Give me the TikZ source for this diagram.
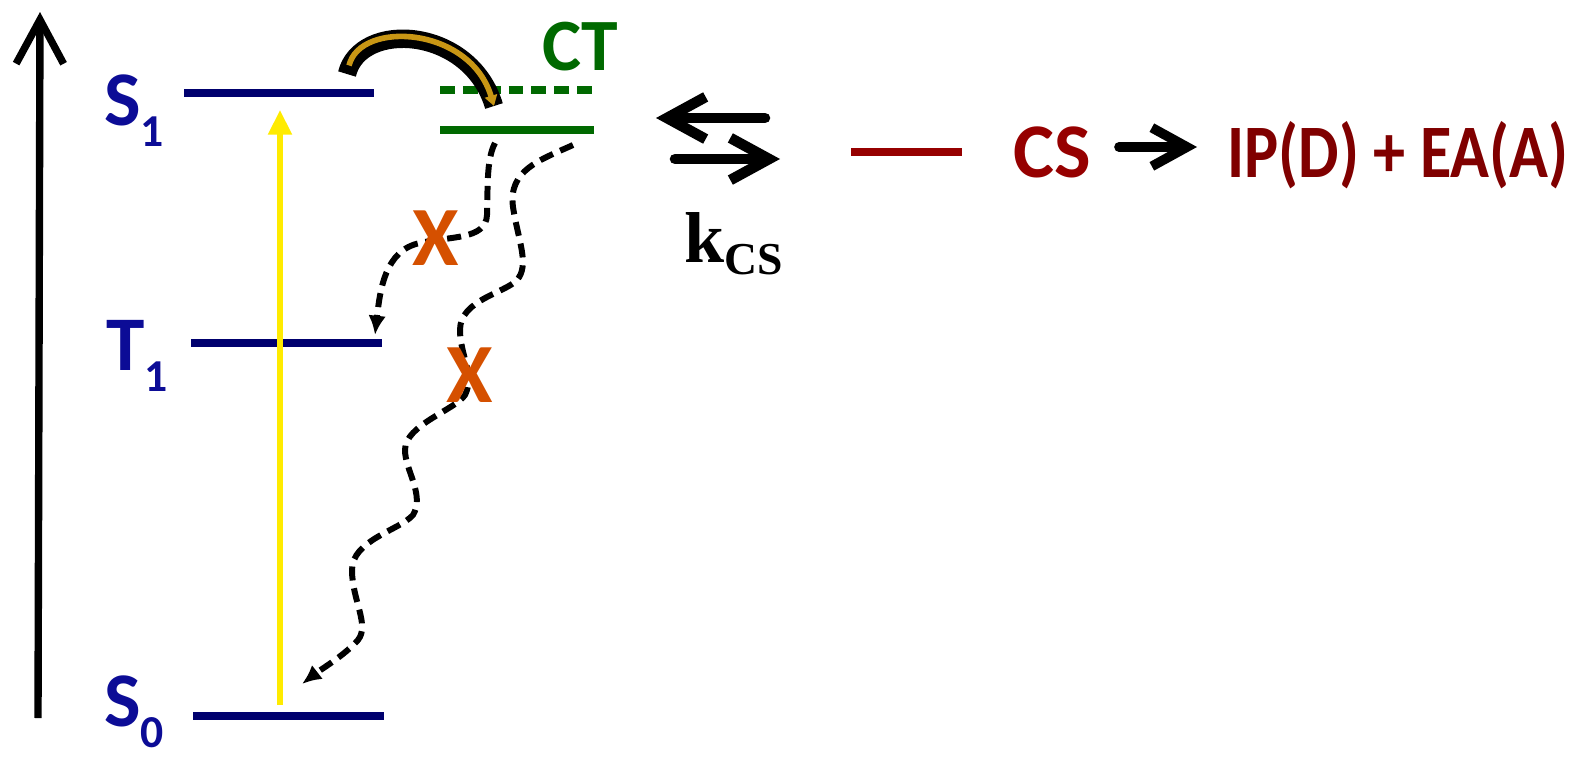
\documentclass[tikz,border=0pt]{standalone}
\usepackage{fontspec}
\setmainfont{Carlito}
\newfontfamily\timesfont{Liberation Serif}
\usetikzlibrary{arrows.meta}
\definecolor{lvlblue}{RGB}{0,0,110}
\definecolor{lblblue}{RGB}{12,12,150}
\definecolor{ctgreen}{RGB}{0,105,0}
\definecolor{csred}{RGB}{150,0,0}
\definecolor{ipred}{RGB}{128,0,0}
\definecolor{xorange}{RGB}{213,80,0}
\definecolor{excyellow}{RGB}{255,235,0}
\definecolor{arcgold}{RGB}{200,150,20}
\newcommand{\lvlsub}[1]{\raisebox{-12pt}{\fontsize{26}{26}\selectfont #1}}
\tikzset{
  lvl/.style={line width=5pt, lvlblue},
  lvllbl/.style={inner sep=0pt, lblblue, font=\fontsize{44}{48}\selectfont\bfseries},
  cross/.style={inner sep=0pt, xorange, font=\fontsize{48}{50}\selectfont\bfseries},
  decay/.style={line width=3.4pt, dash pattern=on 8pt off 4.5pt, -{Latex[length=11pt,width=10pt]}},
  eqarrow/.style={line width=6pt, line cap=round, line join=round, -{Straight Barb[length=22pt,width=24pt]}}
}
\begin{document}
\begin{tikzpicture}[x=0.02cm,y=-0.02cm]
    \useasboundingbox (0,0) rectangle (1573,761);
    % energy axis
    \coordinate (ax0) at (38,718);
    \coordinate (ax1) at (40,12);
    \draw[line width=4.2pt, line join=round, -{Straight Barb[length=25pt,width=27pt]}] (ax0) -- (ax1);
    % levels
    \coordinate (S1l) at (184,93);  \coordinate (S1r) at (374,93);
    \coordinate (T1l) at (191,343); \coordinate (T1r) at (382,343);
    \coordinate (S0l) at (193,716); \coordinate (S0r) at (384,716);
    \draw[lvl] (S1l) -- (S1r);
    \draw[lvl] (T1l) -- (T1r);
    \draw[lvl] (S0l) -- (S0r);
    \node[lvllbl, anchor=base west] (S1lbl) at (104,125) {S\lvlsub{1}};
    \node[lvllbl, anchor=base west] (T1lbl) at (106,370) {T\lvlsub{1}};
    \node[lvllbl, anchor=base west] (S0lbl) at (104,726) {S\lvlsub{0}};
    % excitation
    \coordinate (exc0) at (280,705);
    \coordinate (exc1) at (280,110);
    \draw[line width=3.2pt, excyellow, -{Triangle[length=14pt,width=13pt]}] (exc0) -- (exc1);
    % CT states
    \coordinate (CTal) at (440,90);  \coordinate (CTar) at (594,90);
    \coordinate (CTl) at (440,130);  \coordinate (CTr) at (594,130);
    \draw[line width=5pt, ctgreen, dash pattern=on 8.5pt off 4.5pt] (CTal) -- (CTar);
    \draw[line width=5pt, ctgreen] (CTl) -- (CTr);
    \node[inner sep=0pt, ctgreen, anchor=base west, font=\fontsize{42}{44}\selectfont\bfseries] (CTlbl) at (542,70) {CT};
    % transfer S1 -> CT
    \coordinate (arc0) at (347,74);
    \coordinate (arc1) at (494,106);
    \draw[line width=10.5pt] (arc0) .. controls (360,20) and (470,26) .. (arc1);
    \draw[line width=3.2pt, arcgold, shorten <=5pt, -{Triangle[length=6pt,width=7pt]}] (arc0) .. controls (360,20) and (470,26) .. (arc1);
    % blocked decays
    \coordinate (d1a) at (495,143);
    \coordinate (d1b) at (375,335);
    \draw[decay] (d1a) .. controls (486,160) and (488,190) .. (487,215)
      .. controls (486,240) and (450,236) .. (420,243)
      .. controls (385,250) and (380,290) .. (d1b);
    \coordinate (d2a) at (573,145);
    \coordinate (d2b) at (302,684);
    \draw[decay] (d2a) .. controls (540,160) and (508,170) .. (513,207)
      .. controls (518,240) and (530,265) .. (517,280)
      .. controls (505,293) and (460,300) .. (460,330)
      .. controls (460,355) and (475,375) .. (465,395)
      .. controls (455,410) and (405,425) .. (405,450)
      .. controls (405,470) and (425,495) .. (413,515)
      .. controls (400,530) and (352,540) .. (352,570)
      .. controls (352,600) and (370,625) .. (358,640)
      .. controls (345,655) and (320,670) .. (d2b);
    \node[cross] (X1) at (436,238) {X};
    \node[cross] (X2) at (470,375) {X};
    % charge separation
    \coordinate (eqLa) at (765,118); \coordinate (eqLb) at (656,118);
    \coordinate (eqRa) at (675,159); \coordinate (eqRb) at (780,159);
    \draw[eqarrow] (eqLa) -- (eqLb);
    \draw[eqarrow] (eqRa) -- (eqRb);
    \node[inner sep=0pt, anchor=base west, font=\timesfont\fontsize{41}{44}\selectfont\bfseries] (kcs) at (684,262) {k\raisebox{-7pt}{\fontsize{26}{28}\selectfont CS}};
    \coordinate (CSl) at (851,152); \coordinate (CSr) at (962,152);
    \draw[line width=5pt, csred] (CSl) -- (CSr);
    \node[inner sep=0pt, csred, anchor=base west, font=\fontsize{44}{46}\selectfont\bfseries] (CSlbl) at (1013,177) {CS};
    \node[inner sep=0pt, ipred, anchor=base west, xscale=0.85, transform shape, font=\fontsize{43}{46}\selectfont\bfseries] (IPEA) at (1227,177) {IP(D) + EA(A)};
    \coordinate (ion0) at (1119,147);
    \coordinate (ion1) at (1197,147);
    \draw[line width=5.5pt, line cap=round, line join=round, -{Straight Barb[length=20pt,width=22pt]}] (ion0) -- (ion1);
\end{tikzpicture}
\end{document}
